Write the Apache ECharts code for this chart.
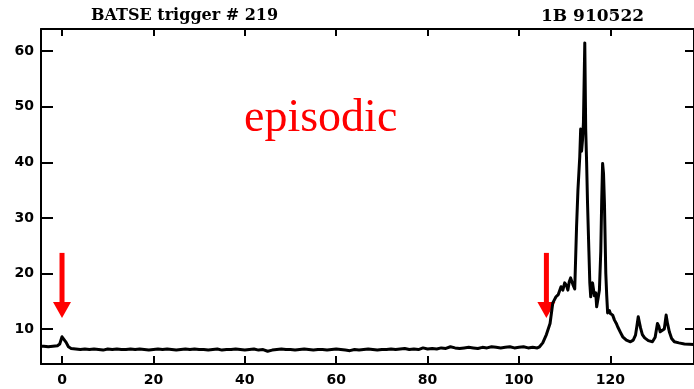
<!DOCTYPE html>
<html>
<head>
<meta charset="utf-8">
<script src="https://cdn.jsdelivr.net/npm/echarts@6/dist/echarts.min.js"></script>
<style>
  html, body { margin: 0; padding: 0; background: #ffffff; }
  #chart { width: 694px; height: 389px; }
</style>
</head>
<body>
<div id="chart"></div>
<script>
// BATSE trigger 219 (GRB 910522): count rate vs. time (s)

// quiet stretch with the small precursor at t = 0
const quietTimes = [
  -4.5, -4, -3, -2, -1, -0.5, 0, 0.4, 0.9, 1.4,
  2, 3, 4, 5, 6, 7, 8, 9, 10,
  11, 12, 13, 14, 15, 16, 17, 18, 19, 20,
  21, 22, 23, 24, 25, 26, 27, 28, 29, 30,
  31, 32, 33, 34, 35, 36, 37, 38, 39, 40,
  41, 42, 43, 44, 45, 46, 47, 48, 49, 50,
  51, 52, 53, 54, 55, 56, 57, 58, 59, 60,
  61, 62, 63, 64, 65, 66, 67, 68, 69, 70,
  71, 72, 73, 74, 75, 76, 77, 78, 79, 80,
  81, 82, 83, 84, 85, 86, 87, 88, 89, 90,
  91, 92, 93, 94, 95, 96, 97, 98, 99, 100,
  101, 102, 103, 104
];
const quietRates = [
  6.9, 6.9, 6.8, 6.9, 7.0, 7.3, 8.6, 8.7, 7.6, 6.8,
  6.5, 6.4, 6.3, 6.4, 6.3, 6.4, 6.3, 6.2, 6.4,
  6.3, 6.4, 6.3, 6.3, 6.4, 6.3, 6.4, 6.3, 6.2, 6.3,
  6.4, 6.3, 6.4, 6.3, 6.2, 6.3, 6.4, 6.3, 6.4, 6.3,
  6.3, 6.2, 6.3, 6.4, 6.2, 6.3, 6.3, 6.4, 6.3, 6.2,
  6.3, 6.4, 6.2, 6.3, 6.0, 6.2, 6.3, 6.4, 6.3, 6.3,
  6.2, 6.3, 6.4, 6.3, 6.2, 6.3, 6.3, 6.2, 6.3, 6.4,
  6.3, 6.2, 6.1, 6.3, 6.2, 6.3, 6.4, 6.3, 6.2, 6.3,
  6.3, 6.4, 6.3, 6.4, 6.5, 6.3, 6.4, 6.3, 6.6, 6.4,
  6.5, 6.4, 6.6, 6.5, 6.8, 6.6, 6.5, 6.6, 6.7, 6.6,
  6.5, 6.7, 6.6, 6.8, 6.7, 6.6, 6.7, 6.8, 6.6, 6.7,
  6.8, 6.6, 6.7, 6.6
];

// main emission episode
const burstTimes = [
  104.5, 105.2, 106.0, 106.8, 107.4, 108.1, 108.6, 109.2, 109.6, 110.0,
  110.4, 110.7, 111.0, 111.3, 111.8, 112.2, 112.6, 112.9, 113.3, 113.5,
  113.7, 113.9, 114.1, 114.4, 114.6, 114.8, 115.0, 115.3, 115.5, 115.7,
  115.9, 116.1, 116.5, 116.8, 117.0, 117.2, 117.4, 117.6, 117.9, 118.1,
  118.3, 118.5, 118.7, 119.0, 119.2, 119.4, 119.8, 120.0, 120.5, 120.9,
  121.3, 121.6, 122.2, 122.7, 123.5, 124.4, 125.0, 125.5, 125.8, 126.1,
  126.4, 126.6, 127.0, 127.5, 128.3, 129.2, 129.8, 130.3, 130.6, 130.9,
  131.3, 131.8, 132.2, 132.5, 132.9, 133.4, 134.0, 135.0, 136.2, 138.3
];
const burstRates = [
  6.8, 7.5, 9.0, 11.0, 14.7, 15.8, 16.2, 17.6, 17.0, 18.3,
  17.8, 17.0, 18.5, 19.2, 18.0, 17.2, 28.4, 35.0, 41.0, 46.0,
  42.0, 44.0, 47.0, 61.5, 46.0, 40.0, 32.7, 24.0, 18.3, 15.8,
  17.5, 18.3, 16.0, 16.5, 14.0, 13.8, 16.0, 17.0, 24.0, 33.0,
  39.8, 38.0, 32.7, 20.0, 16.0, 12.9, 13.3, 12.8, 12.5, 11.6,
  11.0, 10.4, 9.4, 8.6, 8.0, 7.7, 8.0, 8.9, 10.5, 12.2,
  11.0, 10.2, 9.0, 8.4, 7.9, 7.7, 8.5, 11.0, 10.5, 9.5,
  9.4, 10.0, 12.5, 11.0, 9.5, 8.3, 7.7, 7.5, 7.3, 7.2
];

// axis ticks
const xTicks = [0, 20, 40, 60, 80, 100, 120];
const yTicks = [10, 20, 30, 40, 50, 60];

// red markers: episode onsets, drawn from arrowTop down to arrowTip
const arrowTimes = [0, 106];
const arrowTop = 23.7;
const arrowTip = 12.0;

const lightCurve = quietTimes.concat(burstTimes).map((t, i) =>
  [t, quietRates.concat(burstRates)[i]]);
const arrowData = arrowTimes.map(t => [t, arrowTop, arrowTip]);

const tickFont = { fontFamily: 'DejaVu Sans', fontWeight: 'bold', fontSize: 14, color: '#000' };
const headFont = { fontFamily: 'DejaVu Serif', fontWeight: 'bold', fontSize: 16, color: '#000' };
const frameLine = { show: true, onZero: false, lineStyle: { color: '#000', width: 2 } };

const chart = echarts.init(document.getElementById('chart'), null, { renderer: 'canvas' });
chart.setOption({
  animation: false,
  backgroundColor: '#ffffff',
  title: [
    { text: 'BATSE trigger # 219', left: 86, top: 3, textStyle: headFont },
    { text: '1B 910522', left: 536, top: 3, textStyle: Object.assign({}, headFont, { fontSize: 17 }) }
  ],
  grid: { left: 41, right: -3, top: 29, bottom: 25, containLabel: false },
  xAxis: [
    { type: 'value', position: 'bottom', min: -4.6, max: 138.3,
      axisLine: frameLine,
      axisTick: { inside: true, length: 8, customValues: xTicks, lineStyle: { color: '#000', width: 2 } },
      axisLabel: Object.assign({ customValues: xTicks, margin: 9 }, tickFont),
      splitLine: { show: false } },
    { type: 'value', position: 'top', min: -4.6, max: 138.3,
      axisLine: frameLine,
      axisTick: { inside: true, length: 7, customValues: xTicks, lineStyle: { color: '#000', width: 2 } },
      axisLabel: { show: false },
      splitLine: { show: false } }
  ],
  yAxis: [
    { type: 'value', position: 'left', min: 3.7, max: 64,
      axisLine: frameLine,
      axisTick: { inside: true, length: 12, customValues: yTicks, lineStyle: { color: '#000', width: 2 } },
      axisLabel: Object.assign({ customValues: yTicks, margin: 7 }, tickFont),
      splitLine: { show: false } },
    { type: 'value', position: 'right', min: 3.7, max: 64,
      axisLine: frameLine,
      axisTick: { inside: true, length: 9, customValues: yTicks, lineStyle: { color: '#000', width: 2 } },
      axisLabel: { show: false },
      splitLine: { show: false } }
  ],
  graphic: [
    { type: 'text', left: 244, top: 96, silent: true,
      style: { text: 'episodic', fill: '#ff0000',
        font: 'normal 46px "Liberation Serif"' } }
  ],
  series: [
    { type: 'line', xAxisIndex: 0, yAxisIndex: 0, data: lightCurve,
      showSymbol: false, symbol: 'none',
      lineStyle: { color: '#000', width: 3, join: 'round' } },
    { type: 'custom', xAxisIndex: 0, yAxisIndex: 0, data: arrowData,
      renderItem: function (params, api) {
        const top = api.coord([api.value(0), api.value(1)]);
        const tip = api.coord([api.value(0), api.value(2)]);
        const headLen = 16, headHalf = 9, shaftHalf = 2.5;
        return {
          type: 'group',
          children: [
            { type: 'rect',
              shape: { x: tip[0] - shaftHalf, y: top[1], width: shaftHalf * 2, height: tip[1] - headLen - top[1] + 1 },
              style: { fill: '#ff0000' } },
            { type: 'polygon',
              shape: { points: [[tip[0] - headHalf, tip[1] - headLen], [tip[0] + headHalf, tip[1] - headLen], [tip[0], tip[1]]] },
              style: { fill: '#ff0000' } }
          ]
        };
      } }
  ]
});
</script>
</body>
</html>
